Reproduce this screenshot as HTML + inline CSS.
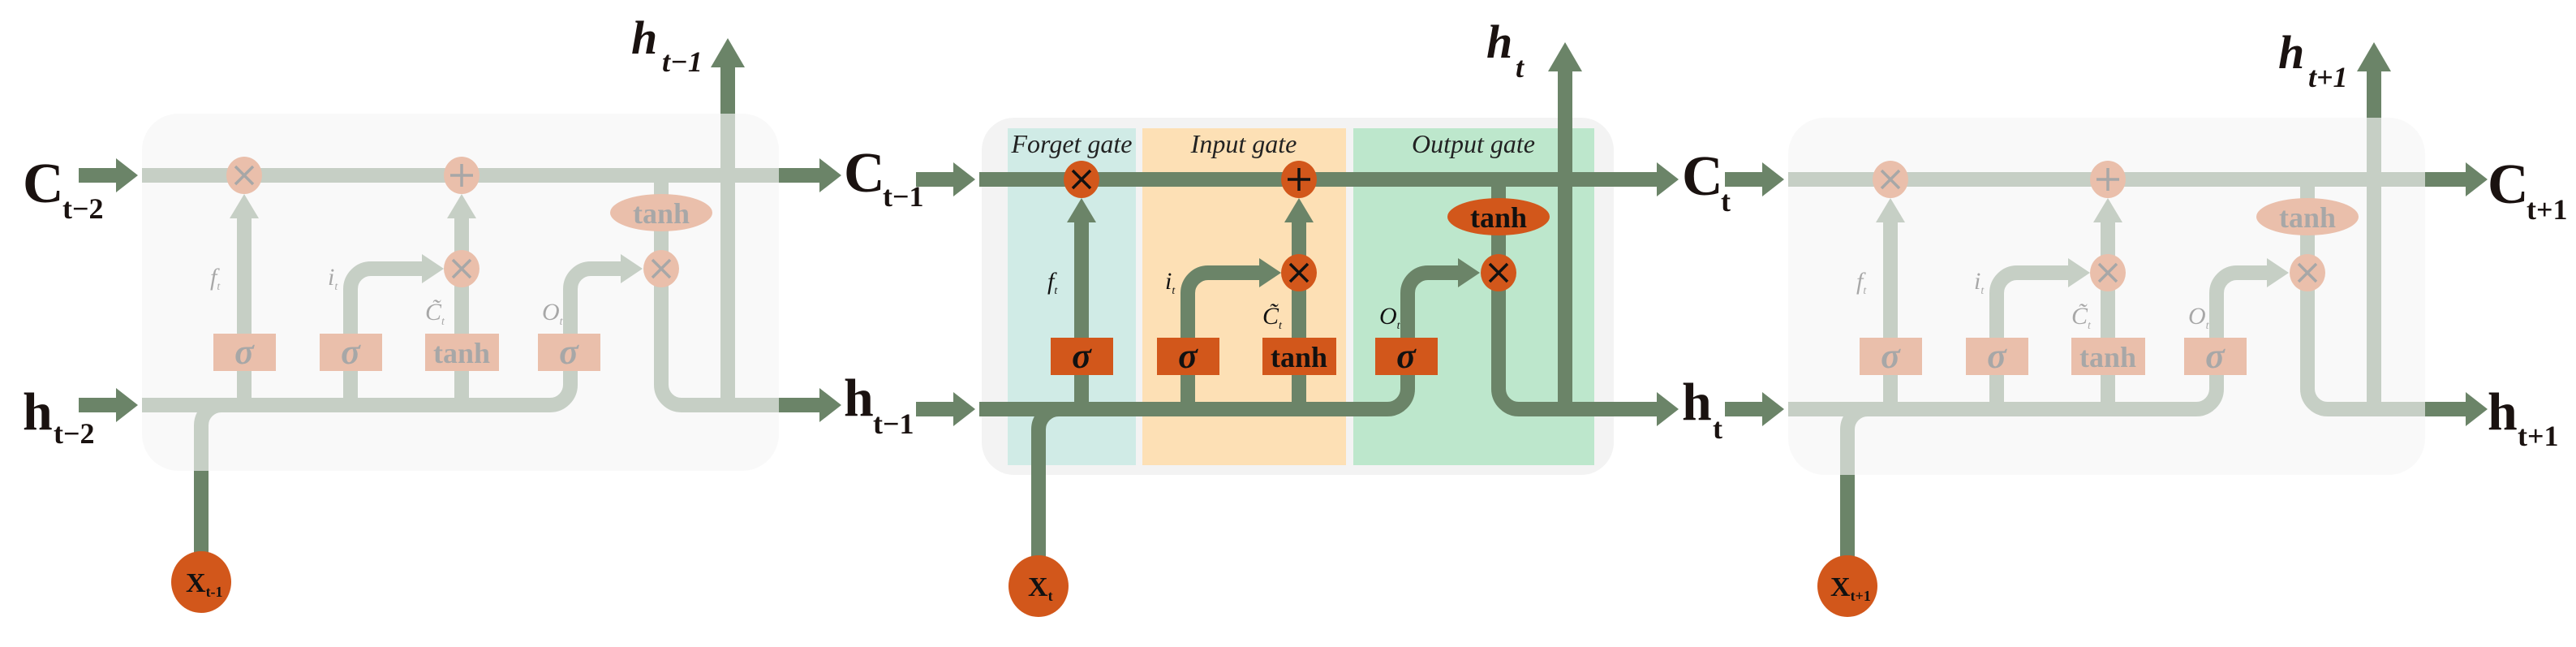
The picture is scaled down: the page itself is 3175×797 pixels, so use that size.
<!DOCTYPE html>
<html><head><meta charset="utf-8"><style>
html,body{margin:0;padding:0;background:#fff;}
svg{display:block;}
text{font-family:"Liberation Serif",serif;}
</style></head><body>
<svg width="3175" height="797" viewBox="0 0 3175 797" xmlns="http://www.w3.org/2000/svg">
<rect width="3175" height="797" fill="#fff"/>

<!-- ============ LEFT CELL (faded) ============ -->
<g transform="translate(175,-5)">
<g stroke="#6b8468" stroke-width="18" fill="none">
<path d="M0 221H835"/>
<path d="M0 504H503A25 25 0 0 0 528 479V361A25 25 0 0 1 553 336H592"/>
<path d="M257 504V361A25 25 0 0 1 282 336H347"/>
<path d="M126 504V272"/>
<path d="M394 504V272"/>
<path d="M640 221V479A25 25 0 0 0 665 504H835"/>
<path d="M722 504V85"/>
<path d="M73 700V529A25 25 0 0 1 98 504H110"/>
<path d="M-78 221H-30M-78 504H-30"/>
</g>
<g fill="#6b8468">
<polygon points="835,200 862,221 835,242"/>
<polygon points="835,483 862,504 835,525"/>
<polygon points="-32,200 -5,221 -32,242"/>
<polygon points="-32,483 -5,504 -32,525"/>
<polygon points="701,88 722,52 743,88"/>
<polygon points="108,274 126,244 144,274"/>
<polygon points="376,274 394,244 412,274"/>
<polygon points="345,318 372,336 345,354"/>
<polygon points="590,318 617,336 590,354"/>
</g>
<g fill="#d2571b">
<ellipse cx="126" cy="221" rx="22" ry="23"/>
<ellipse cx="394" cy="221" rx="22" ry="23"/>
<ellipse cx="394" cy="336" rx="22" ry="23"/>
<ellipse cx="640" cy="336" rx="22" ry="23"/>
<ellipse cx="640" cy="267" rx="63" ry="23"/>
<rect x="88" y="416" width="77" height="46"/>
<rect x="219" y="416" width="77" height="46"/>
<rect x="349" y="416" width="91" height="46"/>
<rect x="488" y="416" width="77" height="46"/>
</g>
<g stroke="#111" stroke-width="3.5" fill="none">
<path d="M115 210L137 232M137 210L115 232"/>
<path d="M394 207V235M380 221H408"/>
<path d="M383 325L405 347M405 325L383 347"/>
<path d="M629 325L651 347M651 325L629 347"/>
</g>
<g fill="#111" font-weight="bold" text-anchor="middle">
<text x="640" y="280" font-size="36">tanh</text>
<text x="126" y="453" font-size="44" font-style="italic">σ</text>
<text x="257" y="453" font-size="44" font-style="italic">σ</text>
<text x="394" y="452" font-size="36">tanh</text>
<text x="526" y="453" font-size="44" font-style="italic">σ</text>
</g>
<g fill="#111" font-style="italic" font-size="30">
<text x="84" y="356">f<tspan font-size="14" dy="6">t</tspan></text>
<text x="229" y="356">i<tspan font-size="14" dy="6">t</tspan></text>
<text x="349" y="399">C̃<tspan font-size="14" dy="6">t</tspan></text>
<text x="493" y="399">O<tspan font-size="14" dy="6">t</tspan></text>
</g>
<rect x="0" y="145" width="785" height="440" rx="45" fill="#f6f6f6" fill-opacity="0.66"/>
<ellipse cx="73" cy="722" rx="37" ry="38" fill="#d2571b"/>
<text x="54" y="734" font-size="34" font-weight="bold" fill="#111">X<tspan font-size="18" dy="6">t-1</tspan></text>
</g>

<!-- ============ MIDDLE CELL ============ -->
<g transform="translate(1207,0)">
<rect x="3" y="145" width="779" height="440" rx="40" fill="#f3f3f3"/>
<rect x="35" y="158" width="158" height="415" fill="#d0ebe6"/>
<rect x="201" y="158" width="251" height="415" fill="#fde0b5"/>
<rect x="461" y="158" width="297" height="415" fill="#bde7cc"/>
<g fill="#222" font-style="italic" font-size="32" text-anchor="middle">
<text x="114" y="188">Forget gate</text>
<text x="326" y="188">Input gate</text>
<text x="609" y="188">Output gate</text>
</g>
<g stroke="#6b8468" stroke-width="18" fill="none">
<path d="M0 221H835"/>
<path d="M0 504H503A25 25 0 0 0 528 479V361A25 25 0 0 1 553 336H592"/>
<path d="M257 504V361A25 25 0 0 1 282 336H347"/>
<path d="M126 504V272"/>
<path d="M394 504V272"/>
<path d="M640 221V479A25 25 0 0 0 665 504H835"/>
<path d="M722 504V85"/>
<path d="M73 700V529A25 25 0 0 1 98 504H110"/>
<path d="M-78 221H-30M-78 504H-30"/>
</g>
<g fill="#6b8468">
<polygon points="835,200 862,221 835,242"/>
<polygon points="835,483 862,504 835,525"/>
<polygon points="-32,200 -5,221 -32,242"/>
<polygon points="-32,483 -5,504 -32,525"/>
<polygon points="701,88 722,52 743,88"/>
<polygon points="108,274 126,244 144,274"/>
<polygon points="376,274 394,244 412,274"/>
<polygon points="345,318 372,336 345,354"/>
<polygon points="590,318 617,336 590,354"/>
</g>
<g fill="#d2571b">
<ellipse cx="126" cy="221" rx="22" ry="23"/>
<ellipse cx="394" cy="221" rx="22" ry="23"/>
<ellipse cx="394" cy="336" rx="22" ry="23"/>
<ellipse cx="640" cy="336" rx="22" ry="23"/>
<ellipse cx="640" cy="267" rx="63" ry="23"/>
<rect x="88" y="416" width="77" height="46"/>
<rect x="219" y="416" width="77" height="46"/>
<rect x="349" y="416" width="91" height="46"/>
<rect x="488" y="416" width="77" height="46"/>
<ellipse cx="73" cy="722" rx="37" ry="38"/>
</g>
<g stroke="#111" stroke-width="3.5" fill="none">
<path d="M115 210L137 232M137 210L115 232"/>
<path d="M394 207V235M380 221H408"/>
<path d="M383 325L405 347M405 325L383 347"/>
<path d="M629 325L651 347M651 325L629 347"/>
</g>
<g fill="#111" font-weight="bold" text-anchor="middle">
<text x="640" y="280" font-size="36">tanh</text>
<text x="126" y="453" font-size="44" font-style="italic">σ</text>
<text x="257" y="453" font-size="44" font-style="italic">σ</text>
<text x="394" y="452" font-size="36">tanh</text>
<text x="526" y="453" font-size="44" font-style="italic">σ</text>
</g>
<g fill="#111" font-style="italic" font-size="30">
<text x="84" y="356">f<tspan font-size="14" dy="6">t</tspan></text>
<text x="229" y="356">i<tspan font-size="14" dy="6">t</tspan></text>
<text x="349" y="399">C̃<tspan font-size="14" dy="6">t</tspan></text>
<text x="493" y="399">O<tspan font-size="14" dy="6">t</tspan></text>
</g>
<text x="60" y="734" font-size="34" font-weight="bold" fill="#111">X<tspan font-size="18" dy="6">t</tspan></text>
</g>

<!-- ============ RIGHT CELL (faded) ============ -->
<g transform="translate(2204,0)">
<g stroke="#6b8468" stroke-width="18" fill="none">
<path d="M0 221H835"/>
<path d="M0 504H503A25 25 0 0 0 528 479V361A25 25 0 0 1 553 336H592"/>
<path d="M257 504V361A25 25 0 0 1 282 336H347"/>
<path d="M126 504V272"/>
<path d="M394 504V272"/>
<path d="M640 221V479A25 25 0 0 0 665 504H835"/>
<path d="M722 504V85"/>
<path d="M73 700V529A25 25 0 0 1 98 504H110"/>
<path d="M-78 221H-30M-78 504H-30"/>
</g>
<g fill="#6b8468">
<polygon points="835,200 862,221 835,242"/>
<polygon points="835,483 862,504 835,525"/>
<polygon points="-32,200 -5,221 -32,242"/>
<polygon points="-32,483 -5,504 -32,525"/>
<polygon points="701,88 722,52 743,88"/>
<polygon points="108,274 126,244 144,274"/>
<polygon points="376,274 394,244 412,274"/>
<polygon points="345,318 372,336 345,354"/>
<polygon points="590,318 617,336 590,354"/>
</g>
<g fill="#d2571b">
<ellipse cx="126" cy="221" rx="22" ry="23"/>
<ellipse cx="394" cy="221" rx="22" ry="23"/>
<ellipse cx="394" cy="336" rx="22" ry="23"/>
<ellipse cx="640" cy="336" rx="22" ry="23"/>
<ellipse cx="640" cy="267" rx="63" ry="23"/>
<rect x="88" y="416" width="77" height="46"/>
<rect x="219" y="416" width="77" height="46"/>
<rect x="349" y="416" width="91" height="46"/>
<rect x="488" y="416" width="77" height="46"/>
</g>
<g stroke="#111" stroke-width="3.5" fill="none">
<path d="M115 210L137 232M137 210L115 232"/>
<path d="M394 207V235M380 221H408"/>
<path d="M383 325L405 347M405 325L383 347"/>
<path d="M629 325L651 347M651 325L629 347"/>
</g>
<g fill="#111" font-weight="bold" text-anchor="middle">
<text x="640" y="280" font-size="36">tanh</text>
<text x="126" y="453" font-size="44" font-style="italic">σ</text>
<text x="257" y="453" font-size="44" font-style="italic">σ</text>
<text x="394" y="452" font-size="36">tanh</text>
<text x="526" y="453" font-size="44" font-style="italic">σ</text>
</g>
<g fill="#111" font-style="italic" font-size="30">
<text x="84" y="356">f<tspan font-size="14" dy="6">t</tspan></text>
<text x="229" y="356">i<tspan font-size="14" dy="6">t</tspan></text>
<text x="349" y="399">C̃<tspan font-size="14" dy="6">t</tspan></text>
<text x="493" y="399">O<tspan font-size="14" dy="6">t</tspan></text>
</g>
<rect x="0" y="145" width="785" height="440" rx="45" fill="#f6f6f6" fill-opacity="0.66"/>
<ellipse cx="73" cy="722" rx="37" ry="38" fill="#d2571b"/>
<text x="52" y="734" font-size="34" font-weight="bold" fill="#111">X<tspan font-size="18" dy="6">t+1</tspan></text>
</g>

<!-- ============ OUTER LABELS ============ -->
<g fill="#1a1210" font-weight="bold">
<text x="28" y="249" font-size="70">C</text>
<text x="77" y="269" font-size="36">t−2</text>
<text x="28" y="529" font-size="66">h</text>
<text x="66" y="546" font-size="36">t−2</text>

<text x="1040" y="236" font-size="70">C</text>
<text x="1088" y="254" font-size="36">t−1</text>
<text x="1040" y="512" font-size="66">h</text>
<text x="1076" y="534" font-size="36">t−1</text>

<text x="2073" y="240" font-size="70">C</text>
<text x="2121" y="260" font-size="36">t</text>
<text x="2073" y="517" font-size="66">h</text>
<text x="2111" y="540" font-size="36">t</text>

<text x="3066" y="250" font-size="70">C</text>
<text x="3114" y="270" font-size="36">t+1</text>
<text x="3066" y="529" font-size="66">h</text>
<text x="3103" y="549" font-size="36">t+1</text>

<g font-style="italic">
<text x="778" y="66" font-size="58">h</text>
<text x="816" y="88" font-size="36">t−1</text>
<text x="1832" y="71" font-size="58">h</text>
<text x="1868" y="95" font-size="36">t</text>
<text x="2808" y="84" font-size="58">h</text>
<text x="2845" y="107" font-size="36">t+1</text>
</g>
</g>
</svg>
</body></html>
